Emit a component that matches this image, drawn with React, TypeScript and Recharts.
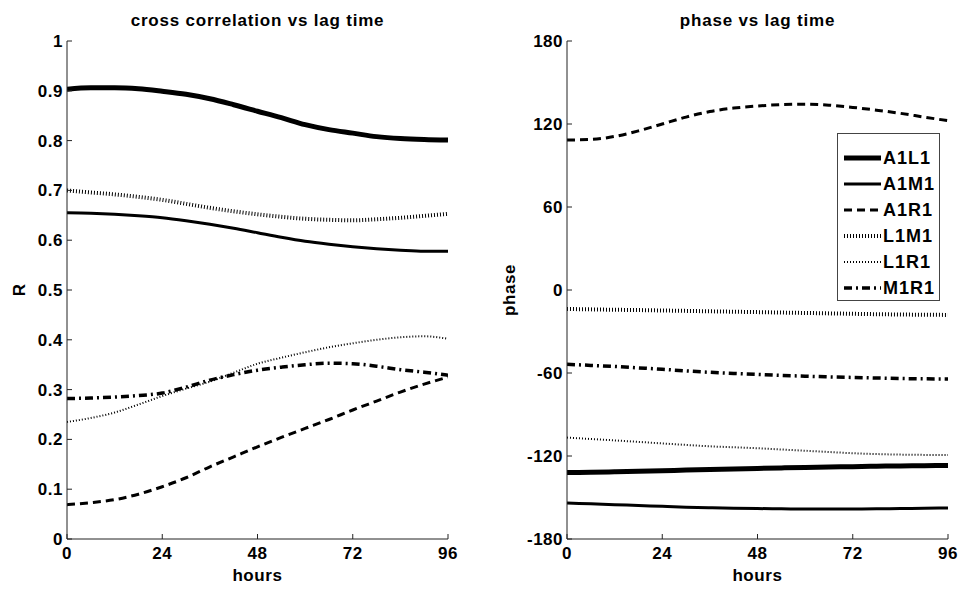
import React from 'react';
import { LineChart, Line, XAxis, YAxis } from 'recharts';

const hours = [0, 6, 12, 18, 24, 30, 36, 42, 48, 54, 60, 66, 72, 78, 84, 90, 96];
const xTicks = [0, 24, 48, 72, 96];
const rTicks = [0, 0.1, 0.2, 0.3, 0.4, 0.5, 0.6, 0.7, 0.8, 0.9, 1];
const phaseTicks = [-180, -120, -60, 0, 60, 120, 180];
const seriesNames = ['A1L1', 'A1M1', 'A1R1', 'L1M1', 'L1R1', 'M1R1'];

// cross correlation R
const rA1L1 = [0.903, 0.906, 0.906, 0.904, 0.899, 0.893, 0.884, 0.872, 0.859, 0.846, 0.832, 0.822, 0.815, 0.808, 0.804, 0.802, 0.801];
const rA1M1 = [0.655, 0.654, 0.652, 0.649, 0.645, 0.639, 0.632, 0.624, 0.615, 0.606, 0.598, 0.592, 0.587, 0.583, 0.580, 0.578, 0.578];
const rA1R1 = [0.069, 0.073, 0.079, 0.090, 0.105, 0.123, 0.145, 0.165, 0.185, 0.204, 0.222, 0.240, 0.259, 0.277, 0.295, 0.311, 0.325];
const rL1M1 = [0.700, 0.696, 0.692, 0.687, 0.681, 0.673, 0.665, 0.658, 0.652, 0.647, 0.643, 0.641, 0.640, 0.642, 0.645, 0.649, 0.653];
const rL1R1 = [0.235, 0.243, 0.254, 0.270, 0.287, 0.302, 0.316, 0.334, 0.352, 0.364, 0.375, 0.385, 0.393, 0.400, 0.405, 0.407, 0.402];
const rM1R1 = [0.282, 0.283, 0.285, 0.288, 0.293, 0.305, 0.319, 0.330, 0.339, 0.345, 0.350, 0.353, 0.352, 0.347, 0.340, 0.335, 0.329];

// phase (degrees)
const pA1L1 = [-132, -131.7, -131.4, -131, -130.6, -130.2, -129.8, -129.4, -129, -128.6, -128.3, -128, -127.7, -127.4, -127.2, -127, -126.8];
const pA1M1 = [-154, -154.6, -155.2, -155.8, -156.4, -157, -157.4, -157.8, -158, -158.2, -158.3, -158.3, -158.3, -158.2, -158, -157.8, -157.5];
const pA1R1 = [108.4, 108.8, 111, 115, 120, 125, 129, 131.5, 133, 134, 134.3, 133.6, 132, 130, 127.7, 125, 122.4];
const pL1M1 = [-13.7, -14, -14.3, -14.5, -14.8, -15.1, -15.4, -15.7, -16, -16.3, -16.6, -16.9, -17.2, -17.5, -17.7, -17.9, -18];
const pL1R1 = [-106.7, -107.7, -108.7, -109.8, -110.9, -112, -113, -113.7, -114.4, -115.3, -116.2, -117.1, -118, -118.6, -119, -119.2, -119.3];
const pM1R1 = [-53.7, -54.5, -55.3, -56.3, -57.3, -58.5, -59.5, -60.3, -61, -61.7, -62.3, -62.8, -63.2, -63.6, -64, -64.2, -64.3];

const rSeries = [rA1L1, rA1M1, rA1R1, rL1M1, rL1R1, rM1R1];
const pSeries = [pA1L1, pA1M1, pA1R1, pL1M1, pL1R1, pM1R1];

const styles: Record<string, { w: number; dash?: string }> = {
  A1L1: { w: 5 },
  A1M1: { w: 3 },
  A1R1: { w: 3, dash: '8 5' },
  L1M1: { w: 4, dash: '1 2' },
  L1R1: { w: 2, dash: '1 2' },
  M1R1: { w: 3.5, dash: '8 4 2 4' },
};

const buildRows = (series: number[][]) =>
  hours.map((h, i) => {
    const row: Record<string, number> = { h };
    seriesNames.forEach((n, k) => {
      row[n] = series[k][i];
    });
    return row;
  });

const rData = buildRows(rSeries);
const pData = buildRows(pSeries);

const FONT = '"Liberation Sans", Arial, sans-serif';
const AX = '#222';
const TICK_LEN = 5;
const labelStyle: React.CSSProperties = { fontFamily: FONT, fontSize: 17, fontWeight: 700, letterSpacing: 0.5 };

const BOTTOM_GAP = 8;
const LEFT_GAP = 4;

const BottomTick = (props: any) => {
  const { x, y, payload } = props;
  const axisY = y - BOTTOM_GAP;
  return (
    <g>
      <line x1={x} x2={x} y1={axisY} y2={axisY - TICK_LEN} stroke={AX} strokeWidth={1} />
      <text x={x} y={y} dy="0.71em" textAnchor="middle" fill="#000" style={labelStyle}>{payload.value}</text>
    </g>
  );
};

const makeLeftTick = (fmt: (v: number) => string) => (props: any) => {
  const { x, y, payload } = props;
  const axisX = x + LEFT_GAP;
  return (
    <g>
      <line x1={axisX} x2={axisX + TICK_LEN} y1={y} y2={y} stroke={AX} strokeWidth={1} />
      <text x={x} y={y} dy="0.355em" textAnchor="end" fill="#000" style={labelStyle}>{fmt(payload.value)}</text>
    </g>
  );
};

const TopTick = (props: any) => {
  const { x, y } = props;
  return <line x1={x} x2={x} y1={y} y2={y + TICK_LEN} stroke={AX} strokeWidth={1} />;
};

const RightTick = (props: any) => {
  const { x, y } = props;
  return <line x1={x - TICK_LEN} x2={x} y1={y} y2={y} stroke={AX} strokeWidth={1} />;
};

function Panel({ data, yTicks, yDomain, fmt, left, yWidth, rightMargin }: any) {
  const LeftTick = makeLeftTick(fmt);
  return (
    <div style={{ position: 'absolute', left, top: 0 }}>
      <LineChart width={481} height={595} data={data} margin={{ top: 41, right: rightMargin, bottom: 0, left: 0 }}>
        <XAxis
          xAxisId="b"
          dataKey="h"
          type="number"
          domain={[0, 96]}
          ticks={xTicks}
          allowDataOverflow
          height={56}
          tickSize={0}
          tickMargin={BOTTOM_GAP}
          stroke={AX}
          tickLine={false}
          tick={BottomTick}
          interval={0}
        />
        <XAxis
          xAxisId="t"
          orientation="top"
          dataKey="h"
          type="number"
          domain={[0, 96]}
          ticks={xTicks}
          allowDataOverflow
          height={0}
          tickSize={0}
          tickMargin={0}
          stroke={AX}
          tickLine={false}
          tick={TopTick}
          interval={0}
        />
        <YAxis
          yAxisId="l"
          type="number"
          domain={yDomain}
          ticks={yTicks}
          allowDataOverflow
          width={yWidth}
          tickSize={0}
          tickMargin={LEFT_GAP}
          stroke={AX}
          tickLine={false}
          tick={LeftTick}
          interval={0}
        />
        <YAxis
          yAxisId="r"
          orientation="right"
          type="number"
          domain={yDomain}
          ticks={yTicks}
          allowDataOverflow
          width={0}
          tickSize={0}
          tickMargin={0}
          stroke={AX}
          tickLine={false}
          tick={RightTick}
          interval={0}
        />
        {seriesNames.map((n) => (
          <Line
            key={n}
            xAxisId="b"
            yAxisId="l"
            dataKey={n}
            type="monotone"
            stroke="#000"
            strokeWidth={styles[n].w}
            strokeDasharray={styles[n].dash}
            dot={false}
            isAnimationActive={false}
          />
        ))}
      </LineChart>
    </div>
  );
}

const textBold = { fontFamily: FONT, fontWeight: 700, fill: '#000' } as const;

export default function App() {
  return (
    <div style={{ position: 'absolute', left: 0, top: 0, width: 962, height: 595, background: '#fff', overflow: 'hidden' }}>
      <Panel data={rData} yTicks={rTicks} yDomain={[0, 1]} fmt={(v: number) => String(Number(v.toFixed(1)))} left={0} yWidth={67} rightMargin={33} />
      <Panel data={pData} yTicks={phaseTicks} yDomain={[-180, 180]} fmt={(v: number) => String(v)} left={481} yWidth={86} rightMargin={14} />
      <svg width={962} height={595} style={{ position: 'absolute', left: 0, top: 0, pointerEvents: 'none' }}>
        <text x={257.5} y={26} textAnchor="middle" fontSize={17} letterSpacing={0.8} {...textBold}>cross correlation vs lag time</text>
        <text x={757.5} y={26} textAnchor="middle" fontSize={17} letterSpacing={0.8} {...textBold}>phase vs lag time</text>
        <text x={257.5} y={581} textAnchor="middle" fontSize={17} letterSpacing={0.6} {...textBold}>hours</text>
        <text x={757.5} y={581} textAnchor="middle" fontSize={17} letterSpacing={0.6} {...textBold}>hours</text>
        <text x={0} y={0} transform="translate(25,290) rotate(-90)" textAnchor="middle" fontSize={17} {...textBold}>R</text>
        <text x={0} y={0} transform="translate(515,290) rotate(-90)" textAnchor="middle" fontSize={17} letterSpacing={0.6} {...textBold}>phase</text>
      </svg>
      <div style={{ position: 'absolute', left: 837, top: 133, width: 103, height: 168, background: '#fff', border: '1px solid #444', boxSizing: 'border-box' }}>
        <svg width={101} height={166}>
          {seriesNames.map((n, i) => {
            const y = 24 + i * 26;
            return (
              <g key={n}>
                <line x1={6} x2={43} y1={y} y2={y} stroke="#000" strokeWidth={styles[n].w} strokeDasharray={styles[n].dash} />
                <text x={45} y={y + 6} fontSize={18} letterSpacing={1} {...textBold}>{n}</text>
              </g>
            );
          })}
        </svg>
      </div>
    </div>
  );
}
